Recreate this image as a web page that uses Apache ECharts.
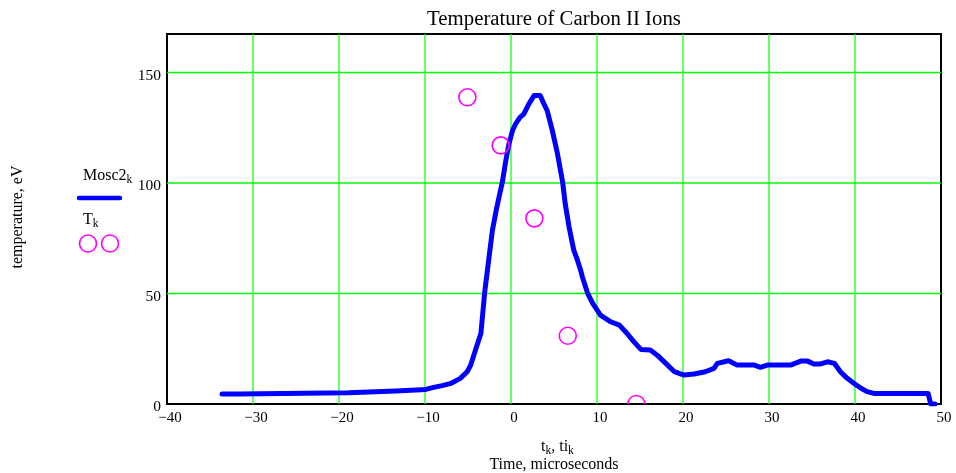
<!DOCTYPE html>
<html>
<head>
<meta charset="utf-8">
<script src="https://cdn.jsdelivr.net/npm/echarts@6/dist/echarts.min.js"></script>
<style>
  html, body { margin: 0; padding: 0; background: #fff; }
  #chart { width: 956px; height: 473px; }
</style>
</head>
<body>
<div id="chart"></div>
<script>
// Modelled Carbon II ion temperature (Mosc2) versus time
const moscTime = [
  -33.6, -31.6, -31.4, -18.9, -18.7, -13.4, -13.2, -9.9, -9.0, -8.0,
  -7.0, -5.9, -5.1, -4.7, -4.5, -4.0, -3.5, -3.06, -2.6, -2.16,
  -1.7, -1.3, -1.0, -0.6, -0.23, 0.2, 0.55, 1.0, 1.5, 2.1,
  2.7, 3.4, 3.8, 4.2, 4.8, 5.4, 6.0, 6.3, 6.75, 7.3,
  7.6, 8.1, 8.3, 8.9, 9.5, 10.4, 11.6, 12.6, 13.5, 14.3,
  15.1, 16.2, 17.0, 18.0, 19.0, 20.1, 21.3, 22.6, 23.6, 24.0,
  24.8, 25.3, 26.3, 28.3, 29.0, 29.8, 32.5, 33.7, 34.5, 35.2,
  36.0, 36.8, 37.6, 38.3, 39.1, 39.9, 40.7, 41.4, 42.2, 48.5,
  48.6, 48.8, 49.3
];
const moscTemp = [
  4.5, 4.5, 5.1, 5.1, 5.9, 5.9, 6.6, 6.6, 7.5, 8.3,
  9.3, 11.6, 14.6, 17.5, 19.9, 26, 31.9, 50.5, 65, 78.6,
  88, 95.2, 100.5, 110.2, 117.8, 124, 126.8, 129.5, 131.3, 135.9,
  139.6, 139.6, 136, 132.8, 123.8, 113.3, 100.5, 90.7, 80.1, 69.6,
  66.5, 60.5, 57.5, 50.2, 45.5, 40.2, 37.2, 35.7, 31.9, 28.1,
  24.7, 24.4, 22.1, 18.4, 14.6, 13.1, 13.6, 14.6, 16.1, 18.4,
  19.1, 19.6, 17.6, 17.6, 16.6, 17.6, 17.6, 19.4, 19.4, 18.1,
  18.1, 19.1, 18.4, 14.6, 11.6, 9.3, 7.1, 5.6, 4.8, 4.8,
  5.6, 0, 0
];

// Measured temperatures T_k at times ti_k
const measTime = [-5.07, -1.2, 2.72, 6.6, 14.58];
const measTemp = [138.8, 117.0, 84.0, 30.9, 0];

// Axis ranges and tick spacing
const xMin = -40, xMax = 50, xStep = 10;
const yMin = 0, yMax = 167.4, yStep = 50;

// Interior grid line positions
const xGridTicks = [-30, -20, -10, 0, 10, 20, 30, 40];
const yGridTicks = [50, 100, 150];

const serif = 'Liberation Serif';
const blue = '#0000ff';
const magenta = '#ff00ff';
const green = '#00ff00';

const chart = echarts.init(document.getElementById('chart'), null, { renderer: 'canvas' });

const subRich = {
  s: { fontFamily: serif, fontSize: 11.5, color: '#000', padding: [9, 0, 0, 0] },
  m: { fontFamily: serif, fontSize: 16, color: '#000' }
};

// Grid lines drawn through the axis scales: [orientation, value]
const gridData = xGridTicks.map(v => [0, v]).concat(yGridTicks.map(v => [1, v]));

chart.setOption({
  animation: false,
  backgroundColor: '#fff',
  title: {
    text: 'Temperature of Carbon II Ions',
    left: 549,
    textAlign: 'center',
    top: 4,
    textStyle: { fontFamily: serif, fontSize: 20.8, fontWeight: 'normal', color: '#000' }
  },
  grid: {
    left: 167, top: 34, width: 774, height: 370,
    show: true, borderColor: '#000', borderWidth: 2, backgroundColor: '#fff'
  },
  xAxis: {
    type: 'value', min: xMin, max: xMax, interval: xStep,
    axisLine: { show: true, onZero: false, lineStyle: { color: '#000', width: 2 } },
    axisTick: { show: false },
    splitLine: { show: false },
    axisLabel: {
      fontFamily: serif, fontSize: 15, color: '#000', margin: 7,
      padding: [0, 0, 0, 6],
      formatter: v => (v < 0 ? '\u2212' + Math.abs(v) : String(v))
    }
  },
  yAxis: {
    type: 'value', min: yMin, max: yMax, interval: yStep,
    axisLine: { show: true, onZero: false, lineStyle: { color: '#000', width: 2 } },
    axisTick: { show: false },
    splitLine: { show: false },
    axisLabel: {
      fontFamily: serif, fontSize: 15.5, color: '#000', margin: 6,
      formatter: v => (v % yStep === 0 ? '{a|' + v + '}' : ''),
      rich: { a: { fontFamily: serif, fontSize: 15.5, color: '#000', padding: [6, 0, 0, 0] } }
    }
  },
  series: [
    {
      name: 'grid',
      type: 'custom',
      silent: true,
      clip: true,
      data: gridData,
      renderItem: (params, api) => {
        const v = api.value(1);
        const vertical = api.value(0) === 0;
        const a = vertical ? api.coord([v, yMin]) : api.coord([xMin, v]);
        const b = vertical ? api.coord([v, yMax]) : api.coord([xMax, v]);
        return {
          type: 'line',
          shape: { x1: a[0], y1: a[1], x2: b[0], y2: b[1] },
          style: { stroke: green, lineWidth: vertical ? 1.2 : 1.4 }
        };
      },
      z: 1
    },
    {
      name: 'Mosc2',
      type: 'line',
      data: moscTime.map((t, i) => [t, moscTemp[i]]),
      showSymbol: false,
      clip: true,
      lineStyle: { color: blue, width: 5, join: 'round', cap: 'round' },
      z: 3
    },
    {
      name: 'T',
      type: 'custom',
      clip: true,
      data: measTime.map((t, i) => [t, measTemp[i]]),
      renderItem: (params, api) => {
        const p = api.coord([api.value(0), api.value(1)]);
        return {
          type: 'circle',
          shape: { cx: p[0], cy: p[1], r: 8.5 },
          style: { fill: 'none', stroke: magenta, lineWidth: 1.6 }
        };
      },
      z: 4
    }
  ],
  graphic: [
    {
      type: 'text', x: 18, y: 217, rotation: Math.PI / 2,
      style: { text: 'temperature, eV', fontFamily: serif, fontSize: 16, fill: '#000',
               align: 'center', verticalAlign: 'middle' }
    },
    {
      type: 'text', x: 83, y: 165,
      style: { text: '{m|Mosc2}{s|k}', rich: subRich }
    },
    {
      type: 'line', shape: { x1: 79, y1: 198, x2: 120, y2: 198 },
      style: { stroke: blue, lineWidth: 4.5, lineCap: 'round' }
    },
    {
      type: 'text', x: 83, y: 209,
      style: { text: '{m|T}{s|k}', rich: subRich }
    },
    {
      type: 'circle', shape: { cx: 88, cy: 243.5, r: 8.5 },
      style: { fill: 'none', stroke: magenta, lineWidth: 1.6 }
    },
    {
      type: 'circle', shape: { cx: 110, cy: 243.5, r: 8.5 },
      style: { fill: 'none', stroke: magenta, lineWidth: 1.6 }
    },
    {
      type: 'text', x: 541, y: 436,
      style: { text: '{m|t}{s|k}{m|, ti}{s|k}', rich: subRich }
    },
    {
      type: 'text', x: 554, y: 457,
      style: { text: 'Time, microseconds', fontFamily: serif, fontSize: 16, fill: '#000',
               align: 'center' }
    }
  ]
});
</script>
</body>
</html>
